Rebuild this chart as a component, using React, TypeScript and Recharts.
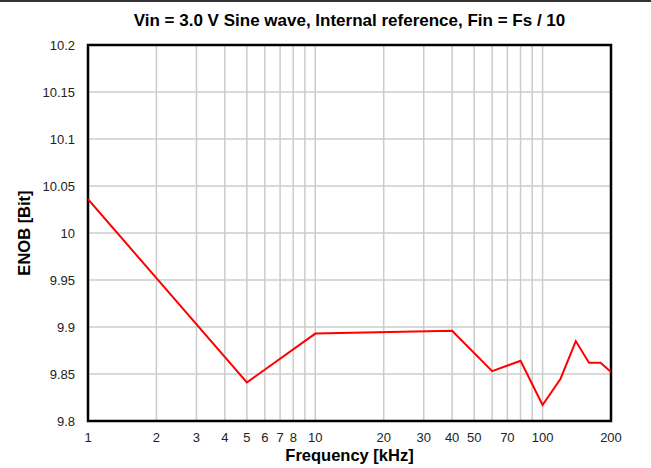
import React from 'react';
import { LineChart, Line, XAxis, YAxis, CartesianGrid, ReferenceArea } from 'recharts';

const freqKHz = [1, 5, 10, 40, 60, 80, 100, 120, 140, 160, 180, 200];
const enobBit = [10.036, 9.841, 9.893, 9.896, 9.853, 9.864, 9.817, 9.845, 9.885, 9.862, 9.862, 9.852];

const xTicks = [1, 2, 3, 4, 5, 6, 7, 8, 9, 10, 20, 30, 40, 50, 60, 70, 80, 90, 100, 200];
const xHidden = [9, 60, 80, 90];
const yTicks = [9.8, 9.85, 9.9, 9.95, 10, 10.05, 10.1, 10.15, 10.2];

const title = 'Vin = 3.0 V Sine wave, Internal reference, Fin = Fs / 10';

const data = freqKHz.map((f, i) => ({ f, enob: enobBit[i] }));

const font = 'Arial, "Liberation Sans", sans-serif';

const App = () => {
  return (
    <div style={{ position: 'absolute', left: 0, top: 0, width: 651, height: 468, background: '#fff', fontFamily: font }}>
      <div style={{ position: 'absolute', left: 0, top: 0, width: 651, borderTop: '2px solid #333' }} />
      <div
        style={{
          position: 'absolute', left: 48, width: 603, top: 11, textAlign: 'center',
          fontSize: 17, lineHeight: '20px', fontWeight: 'bold', color: '#000',
        }}
      >
        {title}
      </div>
      <LineChart
        width={651}
        height={468}
        data={data}
        margin={{ top: 45, right: 40, bottom: 0, left: 0 }}
      >
        <CartesianGrid stroke="#cccccc" strokeWidth={1.5} />
        <XAxis
          dataKey="f"
          type="number"
          scale="log"
          domain={[1, 200]}
          ticks={xTicks}
          interval={0}
          allowDataOverflow
          height={47}
          tickLine={false}
          axisLine={false}
          tickMargin={6}
          tick={{ fill: '#222', fontSize: 13, fontFamily: font }}
          tickFormatter={(v) => (xHidden.includes(v) ? '' : String(v))}
          label={{ value: 'Frequency [kHz]', position: 'insideBottom', offset: 7, fill: '#000', fontSize: 16.5, fontWeight: 'bold', fontFamily: font }}
        />
        <YAxis
          type="number"
          domain={[9.8, 10.2]}
          ticks={yTicks}
          interval={0}
          allowDataOverflow
          width={88}
          tickLine={false}
          axisLine={false}
          tickMargin={7}
          tick={{ fill: '#222', fontSize: 13, fontFamily: font }}
          tickFormatter={(v) => String(v)}
          label={{ value: 'ENOB [Bit]', angle: -90, position: 'insideLeft', offset: 24, fill: '#000', fontSize: 16.5, fontWeight: 'bold', fontFamily: font, style: { textAnchor: 'middle' } }}
        />
        <ReferenceArea x1={1} x2={200} y1={9.8} y2={10.2} fill="none" stroke="#000" strokeWidth={2.5} ifOverflow="visible" />
        <Line
          type="linear"
          dataKey="enob"
          stroke="#ff0000"
          strokeWidth={2}
          dot={false}
          isAnimationActive={false}
        />
      </LineChart>
    </div>
  );
};

export default App;
